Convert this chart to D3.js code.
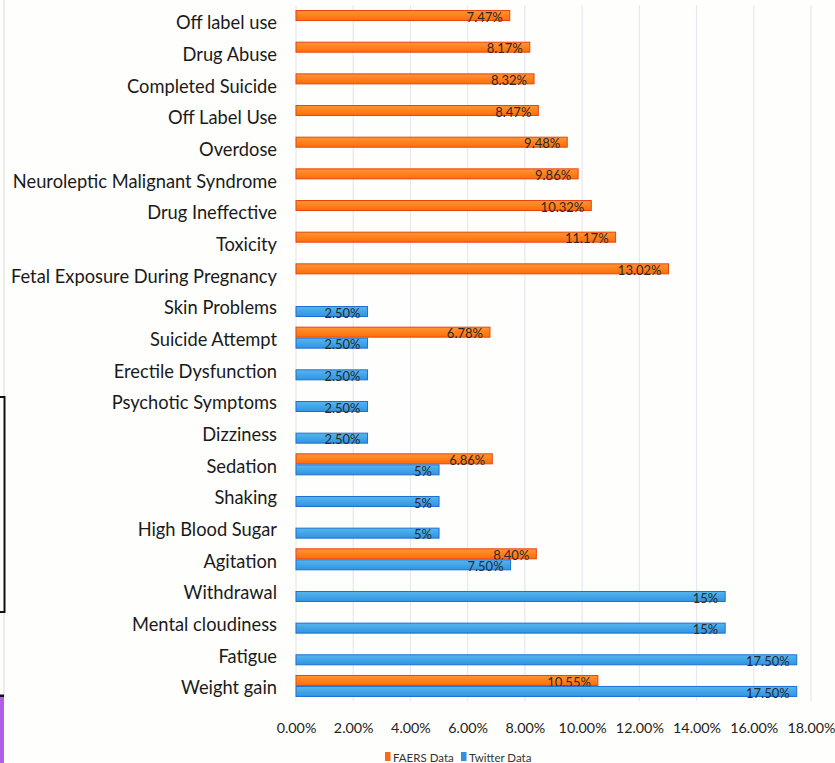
<!DOCTYPE html>
<html>
<head>
<meta charset="utf-8">
<script src="https://cdn.jsdelivr.net/npm/d3@7"></script>
<style>
  body { margin: 0; background: #fefefc; }
  svg { display: block; }
</style>
</head>
<body>
<svg id="chart" width="835" height="763"></svg>
<script>
'use strict';

// categories, top to bottom as in the chart
var categories = ["Off label use", "Drug Abuse", "Completed Suicide", "Off Label Use", "Overdose",
    "Neuroleptic Malignant Syndrome", "Drug Ineffective", "Toxicity", "Fetal Exposure During Pregnancy",
    "Skin Problems", "Suicide Attempt", "Erectile Dysfunction", "Psychotic Symptoms", "Dizziness",
    "Sedation", "Shaking", "High Blood Sugar", "Agitation", "Withdrawal", "Mental cloudiness",
    "Fatigue", "Weight gain"];
var faers = [7.47, 8.17, 8.32, 8.47, 9.48, 9.86, 10.32, 11.17, 13.02, null, 6.78, null, null, null,
    6.86, null, null, 8.40, null, null, null, 10.55];
var twitter = [null, null, null, null, null, null, null, null, null, 2.5, 2.5, 2.5, 2.5, 2.5,
    5, 5, 5, 7.5, 15, 15, 17.5, 17.5];
var xTicks = [0, 2, 4, 6, 8, 10, 12, 14, 16, 18];
var seriesNames = ["FAERS Data", "Twitter Data"];

var svg = d3.select("#chart");
var fontFamily = "Lato, 'Open Sans', sans-serif";

// little bits of screen at the left edge
svg.append("line").attr("x1", 4).attr("x2", 4).attr("y1", 0).attr("y2", 697)
    .attr("stroke", "#e6e6e6").attr("stroke-width", 1.5);
svg.append("rect").attr("x", -3).attr("y", 397).attr("width", 7.5).attr("height", 215)
    .attr("fill", "#fefefc").attr("stroke", "#111").attr("stroke-width", 2);
svg.append("rect").attr("x", 0).attr("y", 697).attr("width", 4).attr("height", 66).attr("fill", "#b35ee8");
svg.append("rect").attr("x", 0).attr("y", 694.5).attr("width", 4).attr("height", 2.5).attr("fill", "#111");

var x = d3.scaleLinear().domain([0, 18]).range([296, 811]);
var y = d3.scaleBand().domain(categories).range([5.2, 701.8]).padding(0);
var sub = d3.scaleBand().domain(seriesNames)
    .range([y.bandwidth() / 2 - 11, y.bandwidth() / 2 + 11]);

var defs = svg.append("defs");
function grad(id, top, bottom) {
    var g = defs.append("linearGradient").attr("id", id)
        .attr("x1", 0).attr("x2", 0).attr("y1", 0).attr("y2", 1);
    g.append("stop").attr("offset", "0%").attr("stop-color", top);
    g.append("stop").attr("offset", "100%").attr("stop-color", bottom);
}
grad("gOrange", "#ff9535", "#ff6d08");
grad("gBlue", "#56b6ee", "#2f94e2");
var fills = { "FAERS Data": "url(#gOrange)", "Twitter Data": "url(#gBlue)" };
var strokes = { "FAERS Data": "#e8430f", "Twitter Data": "#1d6fd3" };
var legendFills = { "FAERS Data": "#fb6a12", "Twitter Data": "#2f8fe0" };

// gridlines
svg.append("g").selectAll("line")
    .data(xTicks)
    .enter().append("line")
    .attr("x1", function (d) { return x(d); })
    .attr("x2", function (d) { return x(d); })
    .attr("y1", 5).attr("y2", 701)
    .attr("stroke", "#e8e8ee").attr("stroke-width", 1.2);

// x axis labels
var xAxis = d3.axisBottom(x).tickValues(xTicks).tickSize(0)
    .tickFormat(function (d) { return d.toFixed(2) + "%"; });
var gx = svg.append("g").attr("transform", "translate(0,720)").call(xAxis);
gx.select(".domain").remove();
gx.selectAll("text").attr("font-family", fontFamily).attr("font-size", 14.3).attr("fill", "#222");

// category labels
var yAxis = d3.axisLeft(y).tickSize(0).tickPadding(0);
var gy = svg.append("g").attr("transform", "translate(277,2.5)").call(yAxis);
gy.select(".domain").remove();
gy.selectAll("text").attr("font-family", fontFamily).attr("font-size", 18.3).attr("fill", "#1a1a1a");

// bars
var rows = [];
categories.forEach(function (c, i) {
    if (faers[i] != null) rows.push({ cat: c, series: "FAERS Data", value: faers[i] });
    if (twitter[i] != null) rows.push({ cat: c, series: "Twitter Data", value: twitter[i] });
});

function fmt(v) {
    return Number.isInteger(v) ? v + "%" : v.toFixed(2) + "%";
}

var bar = svg.append("g").selectAll("g")
    .data(rows)
    .enter().append("g")
    .attr("transform", function (d) { return "translate(0," + (y(d.cat) + sub(d.series)) + ")"; });

bar.append("rect")
    .attr("x", x(0))
    .attr("y", 0.5)
    .attr("width", function (d) { return x(d.value) - x(0); })
    .attr("height", sub.bandwidth() - 1)
    .attr("fill", function (d) { return fills[d.series]; })
    .attr("stroke", function (d) { return strokes[d.series]; })
    .attr("stroke-width", 1);

bar.append("text")
    .attr("x", function (d) { return x(d.value) - 7; })
    .attr("y", sub.bandwidth() / 2 + 1.5)
    .attr("dy", "0.35em")
    .attr("text-anchor", "end")
    .attr("font-family", fontFamily)
    .attr("font-size", 13)
    .attr("fill", "#2a2a2a")
    .text(function (d) { return fmt(d.value); });

// legend
var legend = svg.append("g").selectAll("g")
    .data(seriesNames)
    .enter().append("g")
    .attr("transform", function (d, i) { return "translate(" + (385 + i * 76) + ",752)"; });
legend.append("rect").attr("width", 5.5).attr("height", 9)
    .attr("fill", function (d) { return legendFills[d]; });
legend.append("text").attr("x", 8).attr("y", 10)
    .attr("font-family", fontFamily).attr("font-size", 11.5).attr("fill", "#333")
    .text(function (d) { return d; });
</script>
</body>
</html>
